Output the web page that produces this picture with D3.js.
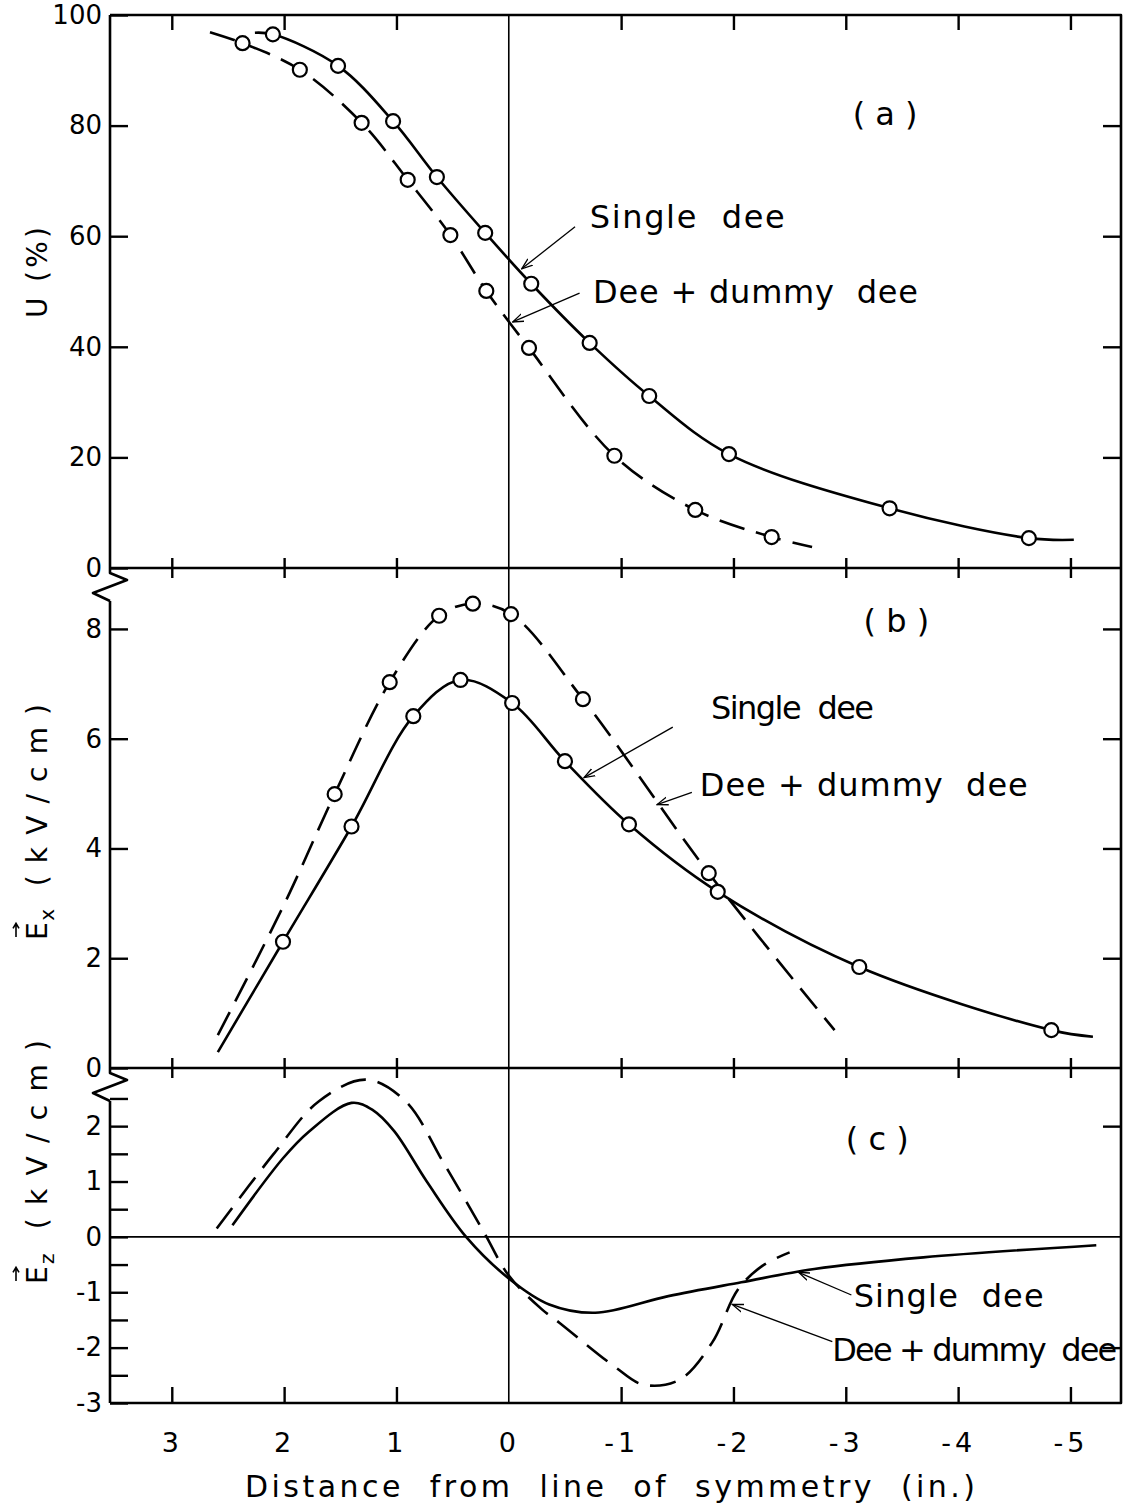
<!DOCTYPE html>
<html>
<head>
<meta charset="utf-8">
<script src="https://cdnjs.cloudflare.com/ajax/libs/d3/7.8.5/d3.min.js"></script>
<style>
  body { margin: 0; background: #fff; }
  text { font-family: "DejaVu Sans", sans-serif; fill: #000; }
</style>
</head>
<body>
<svg id="chart" width="1133" height="1507"></svg>
<script>
// distance from line of symmetry (in.), shared by all three panels
var xTicks = [3, 2, 1, 0, -1, -2, -3, -4, -5];
var xTickLabels = ["3", "2", "1", "0", "-1", "-2", "-3", "-4", "-5"];

// (a) U (%)
var aTicks = [0, 20, 40, 60, 80, 100];
var aSingleCurve = [[2.26, 96.8], [2.10, 96.5], [1.52, 90.8], [1.03, 80.8], [0.64, 70.7], [0.21, 60.6], [-0.20, 51.4],
                    [-0.72, 40.7], [-1.25, 31.1], [-1.96, 20.6], [-3.39, 10.8], [-4.63, 5.4], [-5.03, 5.1]];
var aSinglePts = [[2.10, 96.5], [1.52, 90.8], [1.03, 80.8], [0.64, 70.7], [0.21, 60.6], [-0.20, 51.4],
                  [-0.72, 40.7], [-1.25, 31.1], [-1.96, 20.6], [-3.39, 10.8], [-4.63, 5.4]];
var aDummyCurve = [[2.66, 96.9], [2.37, 94.9], [1.86, 90.1], [1.31, 80.5], [0.90, 70.2], [0.52, 60.2], [0.20, 50.1],
                   [-0.18, 39.8], [-0.94, 20.3], [-1.66, 10.5], [-2.34, 5.6], [-2.70, 3.8]];
var aDummyPts = [[2.37, 94.9], [1.86, 90.1], [1.31, 80.5], [0.90, 70.2], [0.52, 60.2], [0.20, 50.1],
                 [-0.18, 39.8], [-0.94, 20.3], [-1.66, 10.5], [-2.34, 5.6]];

// (b) Ex (kV/cm)
var bTicks = [0, 2, 4, 6, 8];
var bSingleCurve = [[2.59, 0.29], [2.01, 2.30], [1.40, 4.40], [0.85, 6.41], [0.43, 7.07], [-0.03, 6.65], [-0.50, 5.59],
                    [-1.07, 4.44], [-1.86, 3.21], [-3.12, 1.84], [-4.83, 0.69], [-5.20, 0.57]];
var bSinglePts = [[2.01, 2.30], [1.40, 4.40], [0.85, 6.41], [0.43, 7.07], [-0.03, 6.65], [-0.50, 5.59],
                  [-1.07, 4.44], [-1.86, 3.21], [-3.12, 1.84], [-4.83, 0.69]];
var bDummyCurve = [[2.59, 0.60], [2.00, 2.98], [1.55, 4.99], [1.06, 7.03], [0.62, 8.24], [0.32, 8.46], [-0.02, 8.27],
                   [-0.66, 6.72], [-1.78, 3.55], [-2.90, 0.69]];
var bDummyPts = [[1.55, 4.99], [1.06, 7.03], [0.62, 8.24], [0.32, 8.46], [-0.02, 8.27], [-0.66, 6.72], [-1.78, 3.55]];

// (c) Ez (kV/cm)
var cTicks = [-3, -2.5, -2, -1.5, -1, -0.5, 0, 0.5, 1, 1.5, 2, 2.5];
var cTickLabels = {"-3": "-3", "-2": "-2", "-1": "-1", "0": "0", "1": "1", "2": "2"};
var cSingleCurve = [[2.46, 0.21], [2.01, 1.42], [1.78, 1.90], [1.40, 2.42], [1.21, 2.29], [1.02, 1.91], [0.73, 1.00],
                    [0.38, 0.00], [0, -0.75], [-0.36, -1.22], [-0.77, -1.37], [-1.42, -1.07], [-2.07, -0.82],
                    [-2.72, -0.58], [-3.69, -0.37], [-5.23, -0.15]];
var cDummyCurve = [[2.60, 0.15], [2.10, 1.48], [1.69, 2.45], [1.27, 2.84], [0.92, 2.45], [0.57, 1.30], [0.22, 0.08],
                   [0, -0.70], [-0.29, -1.30], [-0.45, -1.55], [-0.94, -2.34], [-1.20, -2.67], [-1.52, -2.58],
                   [-1.81, -1.91], [-2.04, -0.95], [-2.26, -0.52], [-2.50, -0.28]];

var svg = d3.select("#chart");
var L = 110, R = 1121, T = 15, AB = 568, BB = 1068, CB = 1403;

var x = d3.scaleLinear().domain([3.55, -5.45]).range([L, R]);
var ya = d3.scaleLinear().domain([0, 100]).range([AB, T]);
var yb = d3.scaleLinear().domain([0, 9.11]).range([BB, AB]);
var yc = d3.scaleLinear().domain([-3, 3.05]).range([CB, BB]);

svg.append("defs").append("marker")
    .attr("id", "arr")
    .attr("viewBox", "0 -5 12 10")
    .attr("refX", 11).attr("refY", 0)
    .attr("markerUnits", "userSpaceOnUse")
    .attr("markerWidth", 12).attr("markerHeight", 10)
    .attr("orient", "auto")
  .append("path")
    .attr("d", "M0,-4L11,0L0,4")
    .attr("fill", "none").attr("stroke", "#000").attr("stroke-width", 1.3);

// frame
var frame = d3.path();
frame.moveTo(L, T); frame.lineTo(R, T); frame.lineTo(R, CB); frame.lineTo(L, CB);
frame.moveTo(L, AB); frame.lineTo(R, AB);
frame.moveTo(L, BB); frame.lineTo(R, BB);
frame.moveTo(L, T); frame.lineTo(L, AB);
// axis breaks below the 0 of (a) and (b)
[AB, BB].forEach(function (y0) {
    frame.moveTo(L, y0); frame.lineTo(L, y0 + 5); frame.lineTo(L + 17, y0 + 12);
    frame.lineTo(L - 17, y0 + 25); frame.lineTo(L, y0 + 33);
});
frame.moveTo(L, AB + 33); frame.lineTo(L, BB);
frame.moveTo(L, BB + 33); frame.lineTo(L, CB);
svg.append("path").attr("d", frame.toString())
    .attr("fill", "none").attr("stroke", "#000").attr("stroke-width", 2.6).attr("stroke-linejoin", "round");

// line of symmetry and zero of (c)
svg.append("line").attr("x1", x(0)).attr("x2", x(0)).attr("y1", T).attr("y2", CB)
    .attr("stroke", "#000").attr("stroke-width", 1.6);
svg.append("line").attr("x1", L).attr("x2", R).attr("y1", yc(0)).attr("y2", yc(0))
    .attr("stroke", "#000").attr("stroke-width", 1.6);

function styleAxis(g) {
    g.select(".domain").remove();
    g.selectAll(".tick line").attr("stroke", "#000").attr("stroke-width", 2.4);
    g.selectAll("text").attr("font-family", "DejaVu Sans").attr("fill", "#000");
}

var xNoZero = xTicks.filter(function (d) { return d !== 0; });
svg.append("g").attr("transform", "translate(0," + T + ")")
    .call(d3.axisBottom(x).tickValues(xNoZero).tickSize(15).tickFormat("")).call(styleAxis);
[AB, BB].forEach(function (y0) {
    svg.append("g").attr("transform", "translate(0," + y0 + ")")
        .call(d3.axisTop(x).tickValues(xNoZero).tickSize(10).tickFormat("")).call(styleAxis);
    svg.append("g").attr("transform", "translate(0," + y0 + ")")
        .call(d3.axisBottom(x).tickValues(xNoZero).tickSize(10).tickFormat("")).call(styleAxis);
});
svg.append("g").attr("transform", "translate(0," + CB + ")")
    .call(d3.axisTop(x).tickValues(xNoZero).tickSize(16).tickFormat("")).call(styleAxis);
svg.append("g").attr("transform", "translate(0," + CB + ")")
    .call(d3.axisBottom(x).tickValues(xTicks).tickSize(0).tickPadding(30)
        .tickFormat(function (d, i) { return xTickLabels[i]; }))
    .call(styleAxis)
    .selectAll("text").attr("font-size", 27).attr("letter-spacing", 4);

// y axes
function leftAxis(scale, ticks, fmt) {
    svg.append("g").attr("transform", "translate(" + L + ",0)")
        .call(d3.axisLeft(scale).tickValues(ticks).tickSize(-18).tickPadding(8).tickFormat(fmt))
        .call(styleAxis)
        .selectAll("text").attr("font-size", 26);
}
function rightAxis(scale, ticks) {
    svg.append("g").attr("transform", "translate(" + R + ",0)")
        .call(d3.axisRight(scale).tickValues(ticks).tickSize(-18).tickFormat(""))
        .call(styleAxis);
}
leftAxis(ya, aTicks, d3.format("d"));
rightAxis(ya, [20, 40, 60, 80]);
leftAxis(yb, bTicks, d3.format("d"));
rightAxis(yb, [2, 4, 6, 8]);
leftAxis(yc, cTicks, function (d) { return cTickLabels[String(d)] || ""; });
rightAxis(yc, [-2, 2]);

// curves and points
function drawCurve(curve, yScale, dashed) {
    var line = d3.line()
        .x(function (d) { return x(d[0]); })
        .y(function (d) { return yScale(d[1]); })
        .curve(d3.curveCatmullRom.alpha(0.5));
    svg.append("path").datum(curve).attr("d", line)
        .attr("fill", "none").attr("stroke", "#000").attr("stroke-width", 2.6)
        .attr("stroke-dasharray", dashed ? "26,12" : null);
}
function drawPoints(pts, yScale) {
    svg.append("g").selectAll("circle").data(pts).enter().append("circle")
        .attr("cx", function (d) { return x(d[0]); })
        .attr("cy", function (d) { return yScale(d[1]); })
        .attr("r", 7)
        .attr("fill", "#fff").attr("stroke", "#000").attr("stroke-width", 2.2);
}
drawCurve(aSingleCurve, ya, false);
drawCurve(aDummyCurve, ya, true);
drawPoints(aSinglePts, ya);
drawPoints(aDummyPts, ya);
drawCurve(bSingleCurve, yb, false);
drawCurve(bDummyCurve, yb, true);
drawPoints(bSinglePts, yb);
drawPoints(bDummyPts, yb);
drawCurve(cSingleCurve, yc, false);
drawCurve(cDummyCurve, yc, true);

// labels and leaders
function note(txt, xv, yv, yScale, size, len, anchor) {
    var t = svg.append("text").attr("x", x(xv)).attr("y", yScale(yv))
        .attr("font-size", size).attr("text-anchor", anchor || "start")
        .attr("xml:space", "preserve").text(txt);
    if (len) t.attr("textLength", len).attr("lengthAdjust", "spacing");
}
function leader(x1, y1, x2, y2, yScale) {
    svg.append("line").attr("x1", x(x1)).attr("y1", yScale(y1)).attr("x2", x(x2)).attr("y2", yScale(y2))
        .attr("stroke", "#000").attr("stroke-width", 1.3).attr("marker-end", "url(#arr)");
}
note("( a )", -3.35, 80.1, ya, 32, 0, "middle");
note("Single  dee", -0.72, 61.5, ya, 32, 195);
note("Dee + dummy  dee", -0.75, 47.9, ya, 32, 325);
leader(-0.59, 61.7, -0.115, 54.1, ya);
leader(-0.63, 49.7, -0.035, 44.5, ya);

note("( b )", -3.45, 7.94, yb, 32, 0, "middle");
note("Single  dee", -1.80, 6.35, yb, 32, 163);
note("Dee + dummy  dee", -1.70, 4.95, yb, 32, 328);
leader(-1.46, 6.21, -0.67, 5.29, yb);
leader(-1.63, 5.02, -1.32, 4.80, yb);

note("( c )", -3.28, 1.57, yc, 32, 0, "middle");
note("Single  dee", -3.07, -1.27, yc, 32, 190);
note("Dee + dummy  dee", -2.88, -2.25, yc, 32, 285);
leader(-3.05, -1.05, -2.58, -0.64, yc);
leader(-2.88, -1.89, -1.99, -1.22, yc);

// axis titles
svg.append("text").attr("x", 610).attr("y", 1497).attr("text-anchor", "middle")
    .attr("font-size", 30).attr("textLength", 730).attr("lengthAdjust", "spacing")
    .attr("xml:space", "preserve").text("Distance  from  line  of  symmetry  (in.)");

svg.append("g").attr("transform", "translate(47,318) rotate(-90)")
    .append("text").attr("font-size", 28).attr("textLength", 91).attr("lengthAdjust", "spacing")
    .attr("xml:space", "preserve").text("U (%)");

function vecLabel(yStart, len, sub) {
    var g = svg.append("g").attr("transform", "translate(47," + yStart + ") rotate(-90)");
    var t = g.append("text").attr("font-size", 28).attr("textLength", len).attr("lengthAdjust", "spacing")
        .attr("xml:space", "preserve");
    t.append("tspan").text("E");
    t.append("tspan").attr("font-size", 20).attr("dy", 7).text(sub);
    t.append("tspan").attr("dy", -7).text("  ( k V / c m )");
    var b = t.node().getExtentOfChar(0);
    var ay = -31, ax0 = b.x + 3, ax1 = b.x + b.width - 1;
    g.append("path").attr("d", "M" + ax0 + "," + ay + "H" + ax1 + "M" + (ax1 - 5) + "," + (ay - 3) + "L" + ax1 + "," + ay + "L" + (ax1 - 5) + "," + (ay + 3))
        .attr("fill", "none").attr("stroke", "#000").attr("stroke-width", 1.6);
}
vecLabel(940, 236, "x");
vecLabel(1284, 244, "z");
</script>
</body>
</html>
